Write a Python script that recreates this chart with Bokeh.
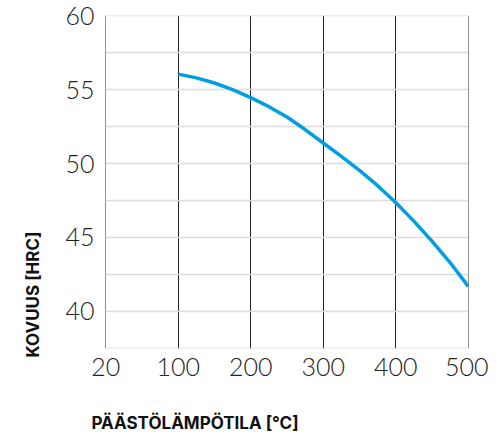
from bokeh.plotting import figure
from bokeh.models import FixedTicker, Range1d, Title
from bokeh.embed import file_html
from bokeh.resources import INLINE

# data
tick_temps = [20, 100, 200, 300, 400, 500]
tick_labels = ["20", "100", "200", "300", "400", "500"]
temps = [100, 125, 150, 175, 200, 225, 250, 275, 300, 325, 350, 375, 400, 425, 450, 475, 500]
hardness = [56.05, 55.8, 55.45, 55.0, 54.46, 53.85, 53.15, 52.3, 51.39, 50.48, 49.54, 48.5, 47.36, 46.1, 44.75, 43.3, 41.68]
y_ticks = [40, 45, 50, 55, 60]
y_grid = [37.5, 40, 42.5, 45, 47.5, 50, 52.5, 55, 57.5, 60]
y_title = "KOVUUS [HRC]"
x_title = "PÄÄSTÖLÄMPÖTILA [°C]"

def xpos(t):
    # 20 sits one step left of 100; 100..500 evenly spaced
    return 0.0 if t == 20 else 1 + (t - 100) / 100.0

p = figure(frame_width=363, frame_height=333, min_border_left=0, min_border_right=20,
           min_border_top=15, min_border_bottom=0,
           x_range=Range1d(-0.004, 5.004), y_range=Range1d(37.48, 60.02),
           output_backend="svg", toolbar_location=None)
p.outline_line_color = None
p.background_fill_color = "white"

p.xaxis.ticker = FixedTicker(ticks=[xpos(t) for t in tick_temps])
p.xaxis.major_label_overrides = {xpos(t): l for t, l in zip(tick_temps, tick_labels)}
p.yaxis.ticker = FixedTicker(ticks=y_ticks)
for ax in (p.xaxis[0], p.yaxis[0]):
    ax.axis_line_color = None
    ax.major_tick_line_color = None
    ax.minor_tick_line_color = None
    ax.major_label_text_font = "Lato Light"
    ax.major_label_text_font_size = "25px"
    ax.major_label_text_color = "#222222"
p.xaxis.major_label_standoff = 3
p.yaxis.major_label_standoff = 5

p.ygrid.ticker = FixedTicker(ticks=y_grid)
p.ygrid.grid_line_color = "#dcdcdc"
p.ygrid.grid_line_width = 1.5
p.xgrid.ticker = FixedTicker(ticks=[xpos(t) for t in tick_temps])
p.xgrid.grid_line_color = "#222222"
p.xgrid.grid_line_width = 1

p.line([xpos(t) for t in temps], hardness, line_color="#009fe3", line_width=3.5)

p.add_layout(Title(text=y_title, align="left", offset=-9, standoff=40,
                   text_font="Inter", text_font_style="bold", text_font_size="17px",
                   text_color="#111111"), "left")
p.add_layout(Title(text=x_title, align="left", offset=-14, standoff=65,
                   text_font="Inter", text_font_style="bold", text_font_size="17px",
                   text_color="#111111"), "below")

open("out.html", "w").write(file_html(p, INLINE))
